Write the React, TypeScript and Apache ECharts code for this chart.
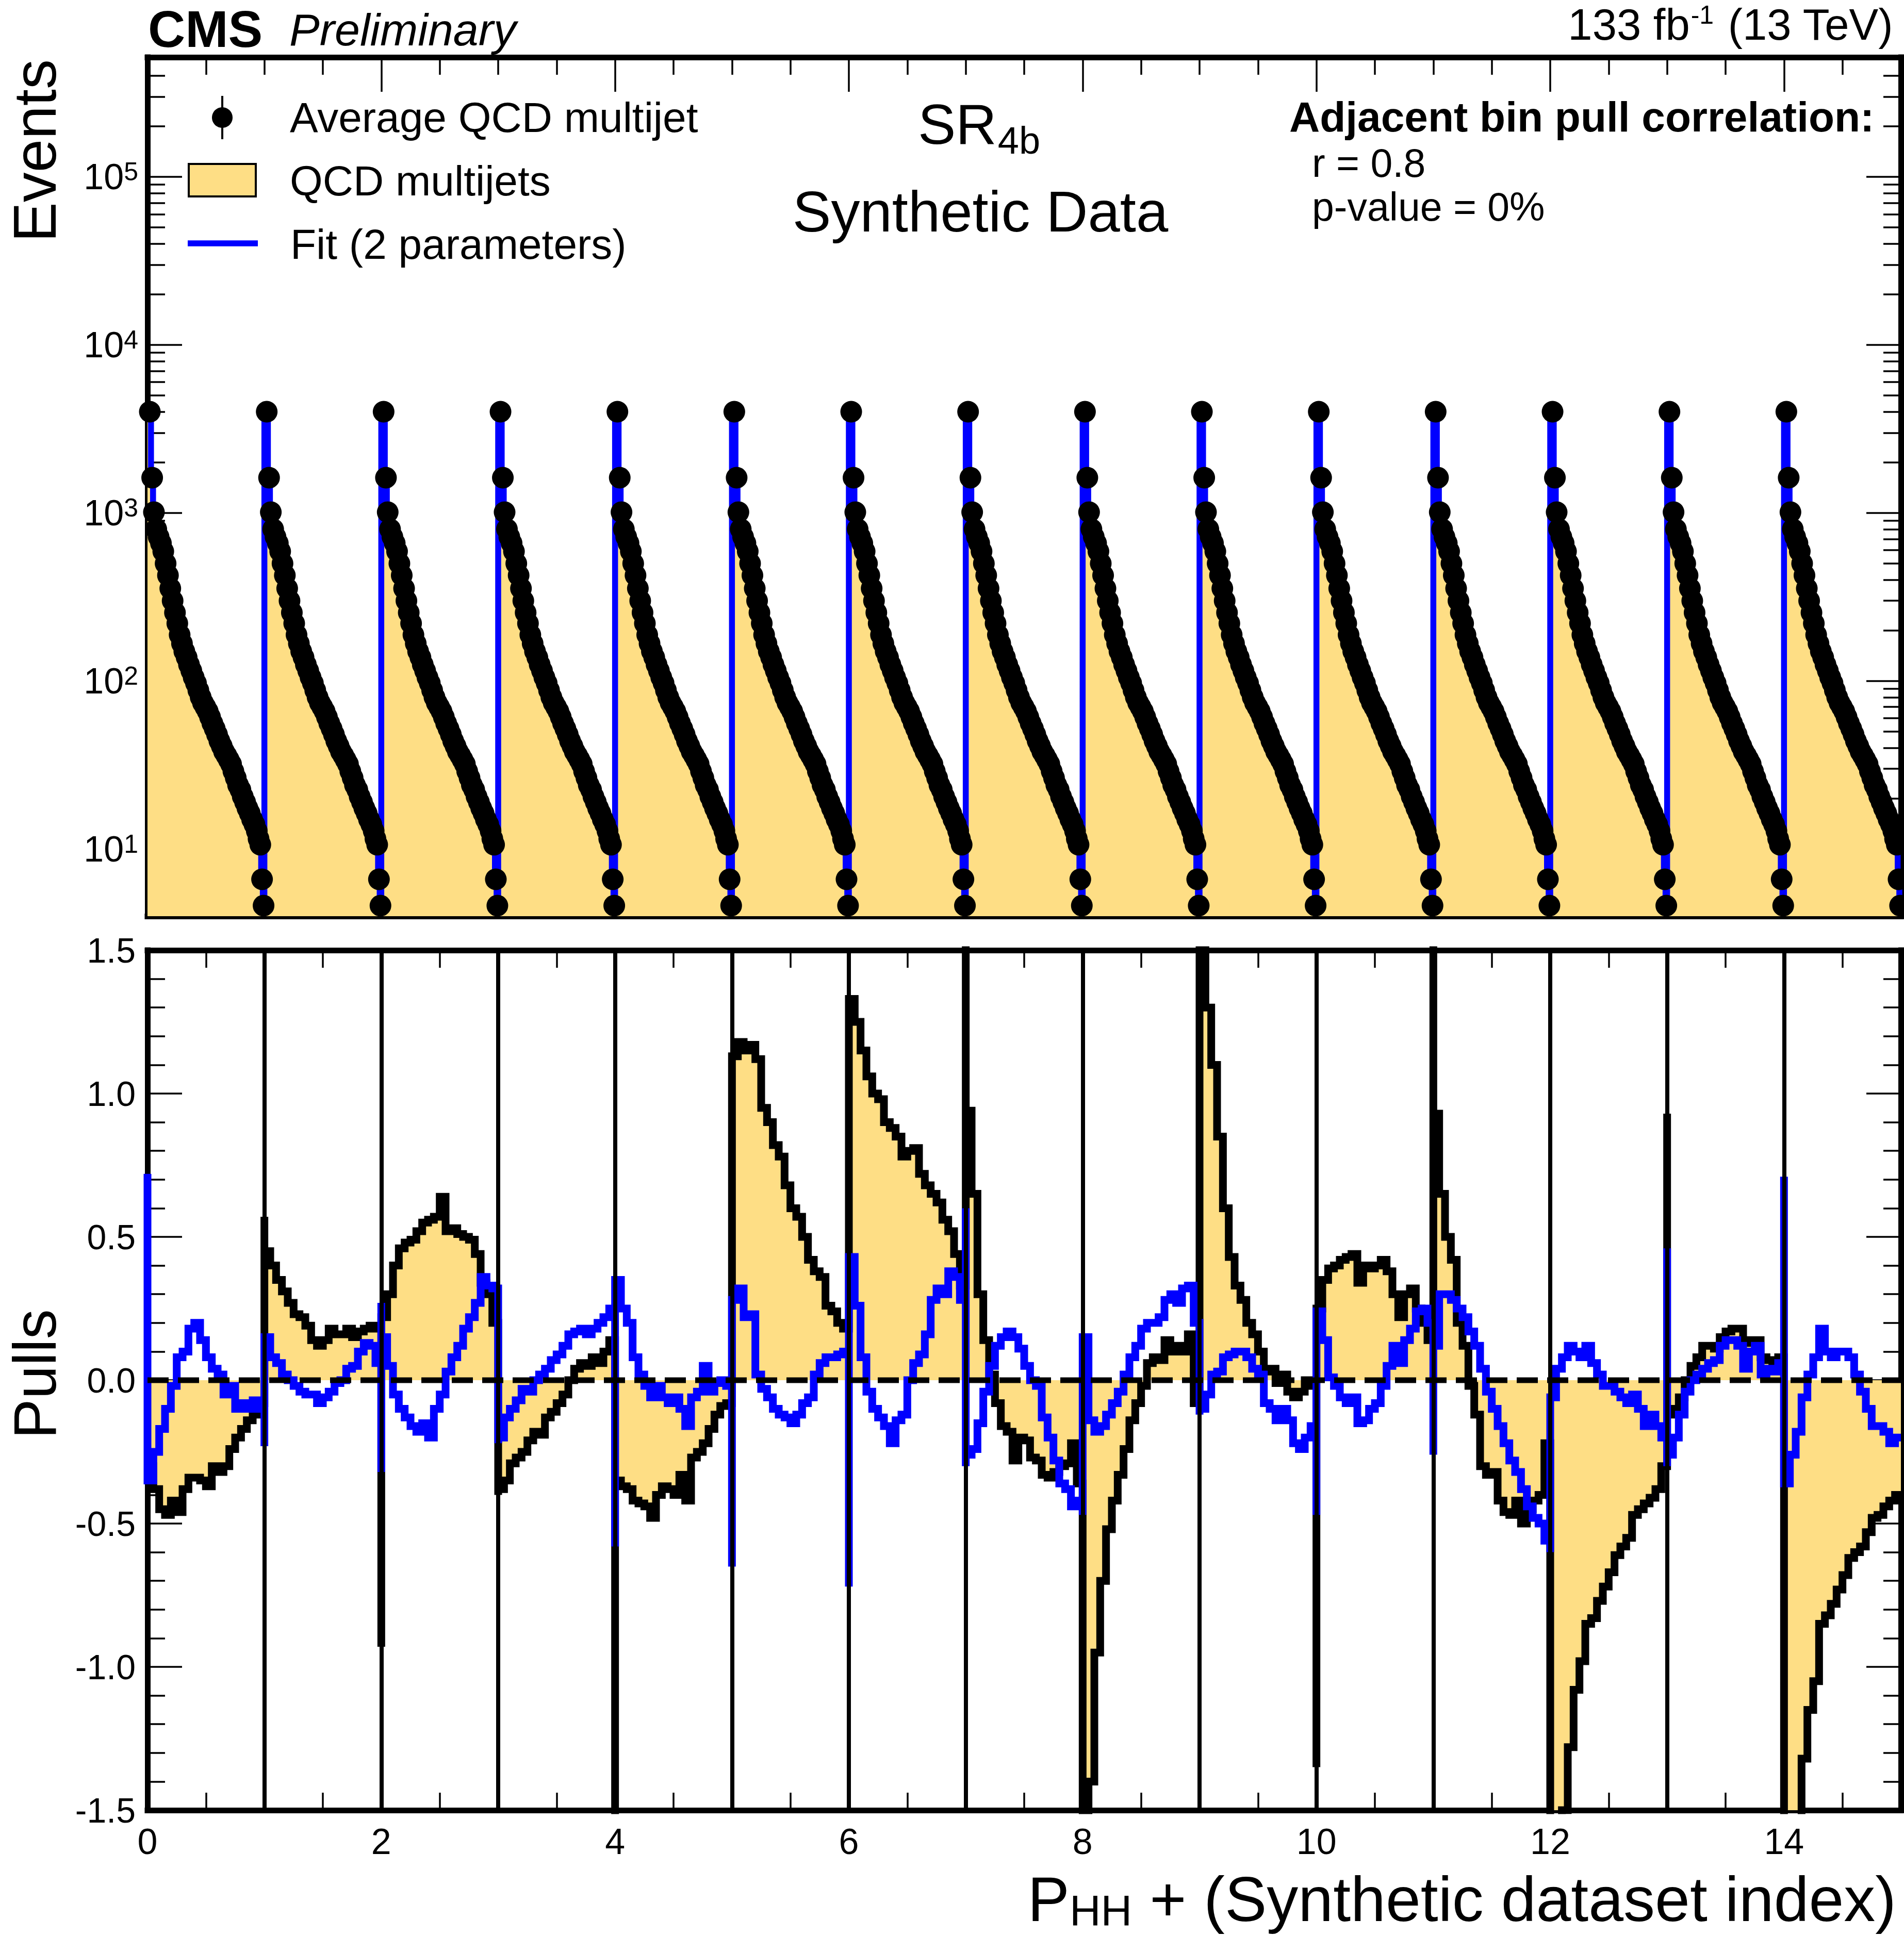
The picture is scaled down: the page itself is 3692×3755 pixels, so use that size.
import React, { useEffect, useRef } from "react";
import * as echarts from "echarts";

// ---------------- page / style constants ----------------
const WIDTH = 3692;
const HEIGHT = 3755;
const FONT = "'Liberation Sans', Arial, Helvetica, sans-serif";
const YELLOW = "#FEDE85";
const BLUE = "#0000FF";
const BLACK = "#000000";

// ---------------- data ----------------
const datasetCount = 15;

// P_HH bin centres inside one synthetic dataset
const binCentres = [
  0.02, 0.04, 0.055, 0.075, 0.095, 0.115, 0.135, 0.155, 0.175, 0.195,
  0.215, 0.235, 0.255, 0.275, 0.295, 0.315, 0.335, 0.355, 0.375, 0.395,
  0.415, 0.435, 0.455, 0.475, 0.495, 0.515, 0.535, 0.555, 0.575, 0.595,
  0.615, 0.635, 0.655, 0.675, 0.695, 0.715, 0.735, 0.755, 0.775, 0.795,
  0.815, 0.835, 0.855, 0.875, 0.895, 0.915, 0.935, 0.95, 0.965, 0.98, 0.993,
];

// Average QCD multijet events per bin (same in every synthetic dataset)
const averageQCD = [
  4000, 1620, 1010, 800, 720, 660, 590, 500, 425, 355,
  300, 255, 220, 188, 167, 150, 138, 125, 115, 105,
  97, 88, 80, 74, 70, 66, 61, 56, 52, 48,
  44, 41, 38, 36, 34, 32, 29, 26.5, 24, 22.5,
  20.5, 19, 17.5, 16.3, 15, 14, 12.8, 11.5, 10.6, 6.6, 4.6,
];

// pull histogram bin edges inside one dataset
const pullBinEdges = [
  0, 0.05, 0.1, 0.15, 0.2, 0.25, 0.3, 0.35, 0.4, 0.45, 0.5,
  0.55, 0.6, 0.65, 0.7, 0.75, 0.8, 0.85, 0.9, 0.95, 1.0,
];

// QCD multijets pulls (black), one list per synthetic dataset
const qcdPull00 = [-0.30, -0.38, -0.45, -0.47, -0.42, -0.46, -0.38, -0.34, -0.34, -0.35, -0.37, -0.30, -0.32, -0.30, -0.24, -0.20, -0.17, -0.14, -0.12, -0.08];
const qcdPull01 = [0.45, 0.40, 0.35, 0.31, 0.27, 0.23, 0.22, 0.19, 0.14, 0.12, 0.14, 0.18, 0.16, 0.16, 0.18, 0.15, 0.17, 0.18, 0.19, 0.18];
const qcdPull02 = [0.22, 0.30, 0.40, 0.46, 0.48, 0.49, 0.52, 0.55, 0.56, 0.57, 0.64, 0.52, 0.53, 0.51, 0.50, 0.49, 0.44, 0.34, 0.30, 0.20];
const qcdPull03 = [-0.38, -0.35, -0.29, -0.27, -0.25, -0.21, -0.18, -0.19, -0.13, -0.11, -0.08, -0.05, 0.00, 0.04, 0.06, 0.05, 0.08, 0.06, 0.10, 0.14];
const qcdPull04 = [-0.35, -0.37, -0.38, -0.42, -0.43, -0.44, -0.48, -0.40, -0.37, -0.38, -0.40, -0.33, -0.42, -0.27, -0.25, -0.22, -0.17, -0.12, -0.09, -0.08];
const qcdPull05 = [1.13, 1.18, 1.15, 1.17, 1.12, 0.95, 0.90, 0.82, 0.78, 0.68, 0.60, 0.57, 0.50, 0.42, 0.38, 0.36, 0.26, 0.24, 0.20, 0.18];
const qcdPull06 = [1.33, 1.25, 1.15, 1.06, 1.00, 0.98, 0.90, 0.88, 0.85, 0.78, 0.80, 0.81, 0.72, 0.68, 0.65, 0.62, 0.56, 0.52, 0.44, 0.33];
const qcdPull07 = [0.94, 0.65, 0.30, 0.14, 0.02, -0.08, -0.16, -0.18, -0.28, -0.20, -0.21, -0.27, -0.28, -0.33, -0.34, -0.32, -0.30, -0.29, -0.22, -0.36];
const qcdPull08 = [-1.60, -1.40, -0.95, -0.70, -0.52, -0.42, -0.33, -0.24, -0.14, -0.08, -0.02, 0.06, 0.08, 0.07, 0.14, 0.10, 0.12, 0.10, 0.16, -0.08];
const qcdPull09 = [1.80, 1.30, 1.10, 0.85, 0.60, 0.43, 0.33, 0.28, 0.20, 0.16, 0.10, 0.03, 0.04, -0.01, 0.02, -0.04, -0.06, -0.04, 0.00, -0.02];
const qcdPull10 = [0.25, 0.35, 0.39, 0.40, 0.42, 0.43, 0.44, 0.34, 0.40, 0.39, 0.40, 0.42, 0.38, 0.30, 0.22, 0.30, 0.32, 0.25, 0.20, 0.14];
const qcdPull11 = [0.93, 0.65, 0.50, 0.42, 0.20, 0.12, -0.02, -0.12, -0.30, -0.33, -0.32, -0.42, -0.46, -0.47, -0.42, -0.50, -0.45, -0.42, -0.40, -0.22];
const qcdPull12 = [-1.80, -1.70, -1.50, -1.28, -1.08, -0.98, -0.85, -0.83, -0.77, -0.72, -0.67, -0.61, -0.58, -0.55, -0.47, -0.45, -0.43, -0.41, -0.38, -0.30];
const qcdPull13 = [-0.12, -0.10, -0.06, 0.00, 0.05, 0.08, 0.12, 0.12, 0.11, 0.15, 0.17, 0.18, 0.18, 0.13, 0.14, 0.14, 0.08, 0.07, 0.06, 0.08];
const qcdPull14 = [-1.80, -1.80, -1.55, -1.32, -1.15, -1.05, -0.85, -0.82, -0.78, -0.73, -0.68, -0.62, -0.60, -0.58, -0.53, -0.48, -0.47, -0.44, -0.42, -0.40];

// Fit (2 parameters) pulls (blue), one list per synthetic dataset
const fitPull00 = [-0.35, -0.25, -0.17, -0.10, -0.02, 0.08, 0.10, 0.18, 0.20, 0.14, 0.08, 0.04, 0.02, -0.05, -0.02, -0.10, -0.08, -0.10, -0.07, -0.10];
const fitPull01 = [0.15, 0.08, 0.06, 0.02, 0.00, -0.02, -0.04, -0.05, -0.05, -0.08, -0.06, -0.04, -0.01, 0.00, 0.04, 0.05, 0.10, 0.13, 0.12, 0.06];
const fitPull02 = [0.15, 0.05, -0.05, -0.10, -0.13, -0.16, -0.18, -0.15, -0.20, -0.10, -0.05, 0.03, 0.08, 0.12, 0.18, 0.22, 0.27, 0.36, 0.33, 0.32];
const fitPull03 = [-0.20, -0.13, -0.10, -0.07, -0.03, -0.04, 0.00, 0.02, 0.04, 0.07, 0.09, 0.12, 0.16, 0.17, 0.18, 0.16, 0.18, 0.20, 0.22, 0.25];
const fitPull04 = [0.35, 0.25, 0.20, 0.08, 0.02, -0.02, -0.06, -0.02, -0.06, -0.08, -0.06, -0.10, -0.16, -0.06, -0.04, 0.05, -0.04, -0.01, 0.00, -0.02];
const fitPull05 = [0.28, 0.32, 0.22, 0.23, 0.02, -0.03, -0.06, -0.10, -0.12, -0.13, -0.15, -0.12, -0.08, -0.06, 0.02, 0.06, 0.08, 0.08, 0.09, 0.10];
const fitPull06 = [0.43, 0.26, 0.08, -0.04, -0.10, -0.13, -0.16, -0.22, -0.14, -0.12, 0.00, 0.06, 0.09, 0.16, 0.28, 0.32, 0.30, 0.38, 0.36, 0.28];
const fitPull07 = [-0.26, -0.24, -0.15, -0.04, 0.05, 0.12, 0.15, 0.17, 0.15, 0.11, 0.05, 0.00, -0.02, -0.13, -0.20, -0.28, -0.36, -0.38, -0.44, -0.42];
const fitPull08 = [0.15, -0.14, -0.18, -0.16, -0.12, -0.08, -0.04, 0.02, 0.08, 0.12, 0.18, 0.20, 0.20, 0.22, 0.28, 0.30, 0.27, 0.32, 0.33, 0.20];
const fitPull09 = [-0.10, -0.05, 0.02, 0.03, 0.08, 0.09, 0.10, 0.10, 0.08, 0.04, 0.02, -0.08, -0.10, -0.14, -0.10, -0.14, -0.22, -0.24, -0.20, -0.16];
const fitPull10 = [0.24, 0.14, 0.01, -0.02, -0.06, -0.08, -0.06, -0.15, -0.14, -0.10, -0.08, -0.02, 0.05, 0.12, 0.06, 0.14, 0.18, 0.24, 0.25, 0.20];
const fitPull11 = [0.12, 0.30, 0.30, 0.28, 0.25, 0.22, 0.17, 0.12, 0.04, -0.04, -0.10, -0.16, -0.22, -0.28, -0.32, -0.38, -0.44, -0.48, -0.50, -0.56];
const fitPull12 = [-0.06, 0.04, 0.08, 0.12, 0.10, 0.08, 0.12, 0.06, 0.02, -0.02, -0.02, -0.04, -0.06, -0.08, -0.05, -0.10, -0.16, -0.12, -0.16, -0.20];
const fitPull13 = [-0.26, -0.20, -0.12, -0.04, 0.00, 0.02, 0.04, 0.06, 0.07, 0.12, 0.14, 0.14, 0.12, 0.04, 0.10, 0.12, 0.02, 0.04, 0.03, 0.06];
const fitPull14 = [-0.36, -0.26, -0.18, -0.06, 0.02, 0.08, 0.18, 0.10, 0.08, 0.10, 0.10, 0.08, 0.02, -0.04, -0.10, -0.16, -0.16, -0.18, -0.22, -0.20];

// pulls of the very narrow first bin(s) at the start of each dataset
const qcdEdgePull = [-0.30, 0.57, -0.93, -0.40, -1.60, 0.47, 0.45, 1.60, -1.60, 1.80, -1.35, 1.80, -1.80, 0.93, -1.80];
const fitEdgePull = [[0.72], [-0.23], [0.27, -0.32], [-0.22], [-0.58], [-0.65], [-0.72], [0.60, -0.30], [-0.47], [-0.12], [-0.47], [-0.26], [-0.60], [0.46, -0.30], [0.71]];

const qcdPulls = [qcdPull00, qcdPull01, qcdPull02, qcdPull03, qcdPull04, qcdPull05, qcdPull06, qcdPull07, qcdPull08, qcdPull09, qcdPull10, qcdPull11, qcdPull12, qcdPull13, qcdPull14];
const fitPulls = [fitPull00, fitPull01, fitPull02, fitPull03, fitPull04, fitPull05, fitPull06, fitPull07, fitPull08, fitPull09, fitPull10, fitPull11, fitPull12, fitPull13, fitPull14];

// axis ranges and tick values
const logMajorTicks = [10, 100, 1000, 10000, 100000];
const EVENTS_MIN = 3.98;
const EVENTS_MAX = 5.15e5;
const PULL_MIN = -1.5;
const PULL_MAX = 1.5;
const PULL_REFERENCE = 0;

// ---------------- helpers ----------------
function stepPath(edges: number[], values: number[], offset: number): number[][] {
  const pts: number[][] = [];
  values.forEach((v, i) => {
    pts.push([offset + edges[i], v]);
    pts.push([offset + edges[i + 1], v]);
  });
  return pts;
}

function buildOption() {
  const topBinEdges = [0];
  for (let i = 1; i < binCentres.length; i++) topBinEdges.push((binCentres[i - 1] + binCentres[i]) / 2);
  topBinEdges.push(1);

  const topHist: number[][] = [];
  const dots: number[][] = [];
  for (let k = 0; k < datasetCount; k++) {
    topHist.push(...stepPath(topBinEdges, averageQCD, k));
    binCentres.forEach((c, i) => dots.push([k + c, averageQCD[i]]));
  }

  const qcdPath: number[][] = [];
  const fitPath: number[][] = [];
  for (let k = 0; k < datasetCount; k++) {
    qcdPath.push([k, qcdEdgePull[k]]);
    qcdPath.push(...stepPath(pullBinEdges, qcdPulls[k], k));
    fitEdgePull[k].forEach((v) => fitPath.push([k, v]));
    fitPath.push(...stepPath(pullBinEdges, fitPulls[k], k));
  }
  const zeroLine = [
    [0, PULL_REFERENCE],
    [datasetCount, PULL_REFERENCE],
  ];

  const minorLogTicks: number[] = [];
  for (let d = 1; d <= 1e5; d *= 10) {
    for (let m = 2; m <= 9; m++) {
      const v = m * d;
      if (v > EVENTS_MIN && v < EVENTS_MAX) minorLogTicks.push(v);
    }
  }

  const frameLine = { show: true, onZero: false, lineStyle: { color: BLACK, width: 11, cap: "square" } };
  const noLine = { show: false, onZero: false };
  const tickLine = { color: BLACK, width: 3.5 };

  const xAxisDef = (gridIndex: number, position: string, labels: boolean) => ({
    type: "value",
    gridIndex,
    position,
    min: 0,
    max: datasetCount,
    interval: 2,
    axisLine: frameLine,
    axisTick: { show: true, inside: true, length: 67, lineStyle: tickLine },
    minorTick: { show: true, splitNumber: 4, length: 34, lineStyle: tickLine },
    splitLine: { show: false },
    minorSplitLine: { show: false },
    axisLabel: labels
      ? { show: true, fontSize: 70, fontFamily: FONT, color: BLACK, margin: 26, showMaxLabel: false }
      : { show: false },
  });

  const logAxisDef = (position: string, major: boolean, labels: boolean) => ({
    type: "log",
    logBase: 10,
    gridIndex: 0,
    position,
    min: EVENTS_MIN,
    max: EVENTS_MAX,
    axisLine: major ? frameLine : noLine,
    axisTick: {
      show: true,
      inside: true,
      length: major ? 67 : 34,
      customValues: major ? logMajorTicks : minorLogTicks,
      lineStyle: tickLine,
    },
    minorTick: { show: false },
    splitLine: { show: false },
    axisLabel: labels
      ? {
          show: true,
          margin: 18,
          customValues: logMajorTicks,
          formatter: (v: number) => {
            const l = Math.log10(v);
            const e = Math.round(l);
            if (Math.abs(l - e) > 1e-6) return "";
            return `{b|10}{s|${e}}`;
          },
          rich: {
            b: { fontSize: 70, lineHeight: 70, fontFamily: FONT, color: BLACK, verticalAlign: "bottom" },
            s: { fontSize: 50, lineHeight: 50, fontFamily: FONT, color: BLACK, verticalAlign: "top", padding: [0, 0, 30, 0] },
          },
        }
      : { show: false },
  });

  const pullAxisDef = (position: string, labels: boolean) => ({
    type: "value",
    gridIndex: 1,
    position,
    min: PULL_MIN,
    max: PULL_MAX,
    interval: 0.5,
    axisLine: frameLine,
    axisTick: { show: true, inside: true, length: 67, lineStyle: tickLine },
    minorTick: { show: true, splitNumber: 5, length: 34, lineStyle: tickLine },
    splitLine: { show: false },
    minorSplitLine: { show: false },
    axisLabel: labels
      ? {
          show: true,
          fontSize: 68,
          fontFamily: FONT,
          color: BLACK,
          margin: 23,
          formatter: (v: number) => v.toFixed(1),
        }
      : { show: false },
  });

  const separators = [];
  for (let k = 1; k < datasetCount; k++) separators.push({ xAxis: k });

  // ---------- text layout helpers ----------
  const canvas = document.createElement("canvas");
  const ctx = canvas.getContext("2d") as CanvasRenderingContext2D;
  const measure = (s: string, size: number, weight = "normal", style = "normal") => {
    ctx.font = `${style} ${weight} ${size}px ${FONT}`;
    return ctx.measureText(s).width;
  };
  const text = (s: string, x: number, baseline: number, size: number, opts: any = {}) => ({
    type: "text",
    x,
    y: baseline - 0.35 * size,
    silent: true,
    z: 100,
    style: {
      text: s,
      fill: BLACK,
      fontSize: size,
      fontFamily: FONT,
      fontWeight: opts.weight || "normal",
      fontStyle: opts.style || "normal",
      align: opts.align || "left",
      verticalAlign: "middle",
    },
  });

  // x-axis title pieces
  const titleF = 122;
  const subF = 84;
  const titleRight = 3677;
  const titleMain = " + (Synthetic dataset index)";
  const xMain = titleRight - measure(titleMain, titleF);
  const xSub = xMain - measure("HH", subF);
  const xP = xSub - measure("P", titleF);

  // lumi label pieces
  const lumiF = 85;
  const lumiSupF = 50;
  const lumiRight = 3672;
  const xLumi3 = lumiRight - measure(" (13 TeV)", lumiF);
  const xLumi2 = xLumi3 - measure("-1", lumiSupF) - 4;
  const xLumi1 = xLumi2 - measure("133 fb", lumiF) - 2;

  const srX = 1780;
  const srF = 110;
  const srSubX = srX + measure("SR", srF) + 2;

  const graphic = [
    // CMS label
    text("CMS", 287, 91, 100, { weight: "bold" }),
    text("Preliminary", 561, 88, 88, { style: "italic" }),
    // luminosity
    text("133 fb", xLumi1, 77, lumiF),
    text("-1", xLumi2, 46, lumiSupF),
    text(" (13 TeV)", xLumi3, 77, lumiF),
    // legend
    { type: "line", silent: true, z: 100, shape: { x1: 431, y1: 186, x2: 431, y2: 270 }, style: { stroke: BLACK, lineWidth: 4 } },
    { type: "circle", silent: true, z: 100, shape: { cx: 431, cy: 228, r: 20 }, style: { fill: BLACK } },
    text("Average QCD multijet", 562, 256, 82),
    { type: "rect", silent: true, z: 100, shape: { x: 366, y: 318, width: 130, height: 63 }, style: { fill: YELLOW, stroke: BLACK, lineWidth: 4 } },
    text("QCD multijets", 562, 379, 82),
    { type: "line", silent: true, z: 100, shape: { x1: 364, y1: 472, x2: 500, y2: 472 }, style: { stroke: BLUE, lineWidth: 11.5 } },
    text("Fit (2 parameters)", 563, 502, 82),
    // region label
    text("SR", srX, 279, srF),
    text("4b", srSubX, 298, 74),
    text("Synthetic Data", 1901, 450, 112, { align: "center" }),
    // correlation box
    text("Adjacent bin pull correlation:", 2500, 255, 82, { weight: "bold" }),
    text("r = 0.8", 2544, 343, 77),
    text("p-value = 0%", 2544, 428, 77),
    // axis titles
    {
      type: "text",
      x: 68,
      y: 115,
      rotation: Math.PI / 2,
      silent: true,
      z: 100,
      style: { text: "Events", fill: BLACK, fontSize: 116, fontFamily: FONT, align: "right", verticalAlign: "middle" },
    },
    {
      type: "text",
      x: 68,
      y: 2665,
      rotation: Math.PI / 2,
      silent: true,
      z: 100,
      style: { text: "Pulls", fill: BLACK, fontSize: 116, fontFamily: FONT, align: "center", verticalAlign: "middle" },
    },
    text("P", xP, 3727, titleF),
    text("HH", xSub, 3735, subF),
    text(titleMain, xMain, 3727, titleF),
  ];

  return {
    animation: false,
    backgroundColor: "#ffffff",
    grid: [
      { left: 286, top: 111, width: 3400, height: 1666 },
      { left: 286, top: 1843, width: 3400, height: 1668 },
    ],
    xAxis: [
      xAxisDef(0, "bottom", false),
      xAxisDef(0, "top", false),
      xAxisDef(1, "bottom", true),
      xAxisDef(1, "top", false),
    ],
    yAxis: [
      logAxisDef("left", true, true),
      logAxisDef("left", false, false),
      logAxisDef("right", true, false),
      logAxisDef("right", false, false),
      pullAxisDef("left", true),
      pullAxisDef("right", false),
    ],
    series: [
      {
        name: "QCD multijets",
        type: "line",
        xAxisIndex: 0,
        yAxisIndex: 0,
        data: topHist,
        symbol: "none",
        showSymbol: false,
        z: 1,
        lineStyle: { color: BLACK, width: 3, join: "miter" },
        areaStyle: { color: YELLOW, opacity: 1, origin: "start" },
      },
      {
        name: "Fit (2 parameters)",
        type: "line",
        xAxisIndex: 0,
        yAxisIndex: 0,
        data: topHist,
        symbol: "none",
        showSymbol: false,
        z: 2,
        lineStyle: { color: BLUE, width: 11.5, join: "miter" },
      },
      {
        name: "Average QCD multijet",
        type: "scatter",
        xAxisIndex: 0,
        yAxisIndex: 0,
        data: dots,
        symbol: "circle",
        symbolSize: 42,
        z: 3,
        itemStyle: { color: BLACK, opacity: 1, borderWidth: 0 },
      },
      {
        name: "QCD multijets pulls fill",
        type: "line",
        xAxisIndex: 2,
        yAxisIndex: 4,
        data: qcdPath,
        symbol: "none",
        showSymbol: false,
        z: 1,
        lineStyle: { width: 0, opacity: 0 },
        areaStyle: { color: YELLOW, opacity: 1, origin: 0 },
        markLine: {
          silent: true,
          symbol: ["none", "none"],
          label: { show: false },
          animation: false,
          lineStyle: { color: BLACK, width: 8, type: "solid", opacity: 1 },
          data: separators,
        },
      },
      {
        name: "QCD multijets pulls",
        type: "line",
        xAxisIndex: 2,
        yAxisIndex: 4,
        data: qcdPath,
        symbol: "none",
        showSymbol: false,
        z: 3,
        lineStyle: { color: BLACK, width: 15, join: "miter" },
      },
      {
        name: "Fit pulls",
        type: "line",
        xAxisIndex: 2,
        yAxisIndex: 4,
        data: fitPath,
        symbol: "none",
        showSymbol: false,
        z: 4,
        lineStyle: { color: BLUE, width: 15, join: "miter" },
      },
      {
        name: "Zero pull",
        type: "line",
        xAxisIndex: 2,
        yAxisIndex: 4,
        data: zeroLine,
        symbol: "none",
        showSymbol: false,
        z: 5,
        lineStyle: { color: BLACK, width: 11, type: [41, 18], cap: "butt" },
      },
    ],
    graphic,
  };
}

export default function App() {
  const ref = useRef<HTMLDivElement>(null);
  useEffect(() => {
    if (!ref.current) return;
    const chart = echarts.init(ref.current, undefined, { renderer: "svg" });
    chart.setOption(buildOption() as any);
    return () => chart.dispose();
  }, []);
  return (
    <div
      ref={ref}
      style={{ position: "absolute", left: 0, top: 0, width: WIDTH, height: HEIGHT, background: "#fff" }}
    />
  );
}
